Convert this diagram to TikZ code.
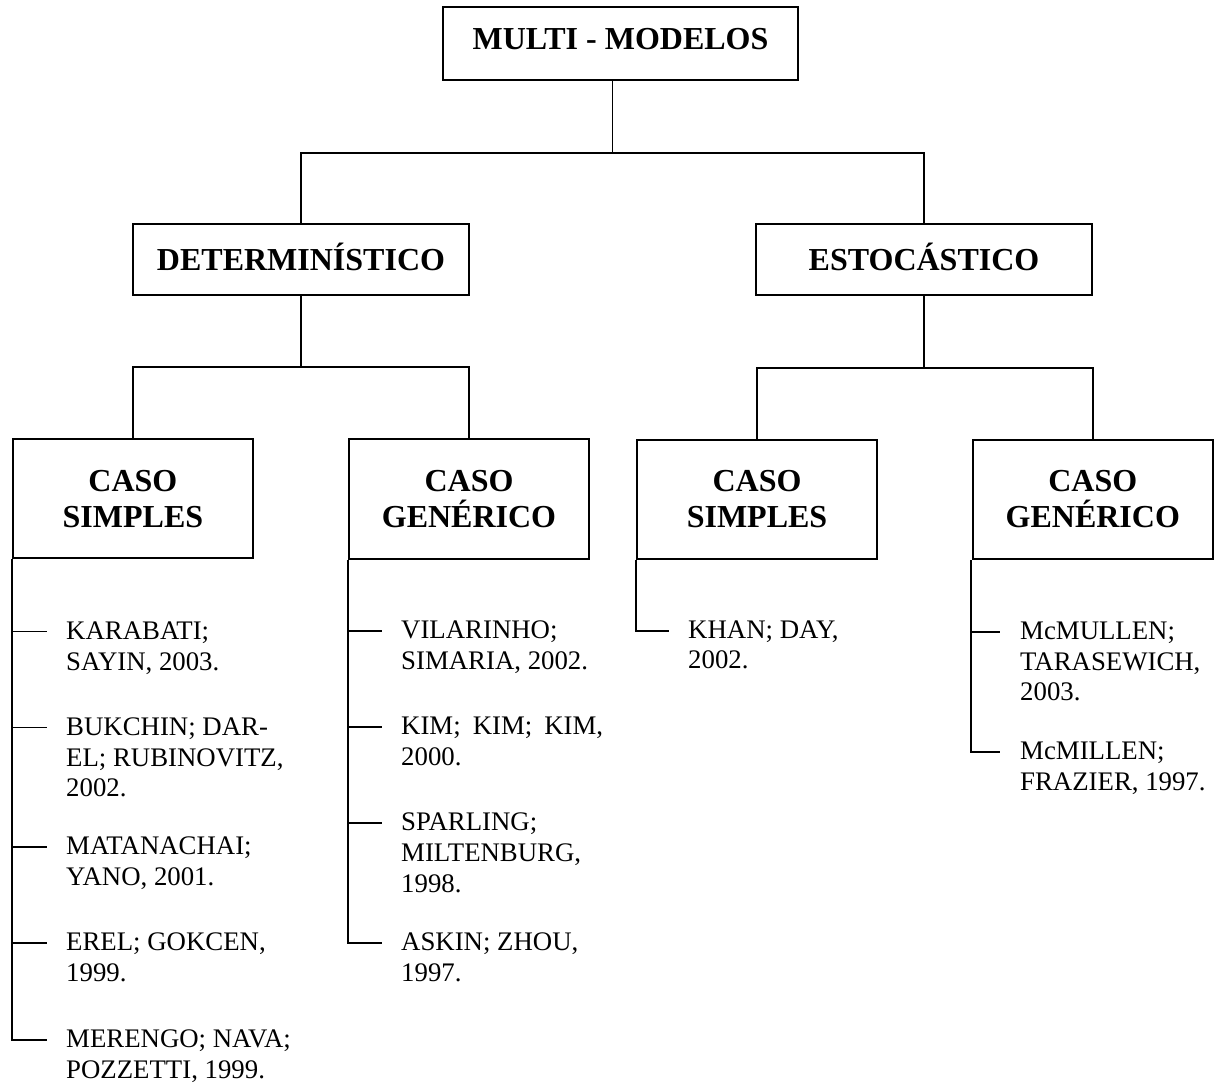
\documentclass[tikz,border=0pt]{standalone}
\usepackage{fontspec}
\setmainfont{Liberation Serif}
\usetikzlibrary{calc}
\begin{document}
\begin{tikzpicture}[x=1pt,y=1pt,
  box/.style={draw, line width=2pt, inner sep=0pt, align=center,
    font=\fontsize{32}{36}\selectfont\bfseries},
  lvl/.style={box, minimum width=336pt, minimum height=71pt,
    text height=21.5pt, text depth=0pt},
  leaf/.style={box, minimum width=240pt, minimum height=119.5pt},
  link/.style={line width=1.7pt},
  spine/.style={line width=2pt},
  ref/.style={anchor=north west, inner sep=0pt, align=left,
    font=\fontsize{26.8}{30.6}\selectfont,
    execute at begin node={\rule{0pt}{20pt}}}]
\useasboundingbox (0,0) rectangle (1214,-1086);

% boxes
\node[box, minimum width=354.4pt, minimum height=72.7pt,
      text height=21.5pt, text depth=10pt] (top) at (620.5,-43.6) {MULTI - MODELOS};
\node[lvl] (det) at (301,-259.5) {DETERMINÍSTICO};
\node[lvl] (est) at (924,-259.5) {ESTOCÁSTICO};
\node[leaf] (cs1) at (132.9,-498.7) {CASO\\SIMPLES};
\node[leaf] (cg1) at (469,-499)     {CASO\\GENÉRICO};
\node[leaf] (cs2) at (757,-499.5)   {CASO\\SIMPLES};
\node[leaf] (cg2) at (1092.8,-499.3)  {CASO\\GENÉRICO};

% tree connectors
\coordinate (j0) at (612.5,-153);
\coordinate (j1) at (301,-367);
\coordinate (j2) at (924,-368);
\draw[link] (top.south -| j0) -- (j0);
\draw[link] (det.north) |- (j0) -| (est.north);
\draw[link] (det.south) -- (j1);
\draw[link] (cs1.north) |- (j1) -| (cg1.north);
\draw[link] (est.south) -- (j2);
\draw[link] (cs2.north) |- (j2) -| (cg2.north);

% tick ends of the reference lists
\coordinate (t11) at (47,-631.5);
\coordinate (t12) at (47,-727.5);
\coordinate (t13) at (47,-847);
\coordinate (t14) at (47,-943);
\coordinate (t15) at (47,-1039.5);
\coordinate (t21) at (382,-631);
\coordinate (t22) at (382,-727);
\coordinate (t23) at (382,-823);
\coordinate (t24) at (382,-943);
\coordinate (t31) at (668.5,-630.5);
\coordinate (t41) at (1000,-632);
\coordinate (t42) at (1000,-752);
\coordinate (s4) at (970.5,-560);

% references
\node[ref] (r11) at ($(t11)+(19,10)$) {KARABATI;\\SAYIN, 2003.};
\node[ref] (r12) at ($(t12)+(19,10)$) {BUKCHIN; DAR-\\EL; RUBINOVITZ,\\2002.};
\node[ref] (r13) at ($(t13)+(19,10)$) {MATANACHAI;\\YANO, 2001.};
\node[ref] (r14) at ($(t14)+(19,10)$) {EREL; GOKCEN,\\1999.};
\node[ref] (r15) at ($(t15)+(19,10)$) {MERENGO; NAVA;\\POZZETTI, 1999.};
\node[ref] (r21) at ($(t21)+(19,10)$) {VILARINHO;\\SIMARIA, 2002.};
\node[ref] (r22) at ($(t22)+(19,10)$) {KIM;\hspace{0.45em}KIM;\hspace{0.45em}KIM,\\2000.};
\node[ref] (r23) at ($(t23)+(19,10)$) {SPARLING;\\MILTENBURG,\\1998.};
\node[ref] (r24) at ($(t24)+(19,10)$) {ASKIN; ZHOU,\\1997.};
\node[ref] (r31) at ($(t31)+(19.5,10)$) {KHAN; DAY,\\2002.};
\node[ref] (r41) at ($(t41)+(20,10)$) {McMULLEN;\\TARASEWICH,\\2003.};
\node[ref] (r42) at ($(t42)+(20,10)$) {McMILLEN;\\FRAZIER, 1997.};

% list spines and ticks
\draw[spine] (cs1.south west) -- (cs1.south west |- t15) -- (t15);
\foreach \t in {t11,t12,t13,t14} \draw[link] (cs1.south west |- \t) -- (\t);
\draw[spine] (cg1.south west) -- (cg1.south west |- t24) -- (t24);
\foreach \t in {t21,t22,t23} \draw[link] (cg1.south west |- \t) -- (\t);
\draw[spine] (cs2.south west) -- (cs2.south west |- t31) -- (t31);
\draw[spine] (s4) -- (s4 |- t42) -- (t42);
\draw[link] (s4 |- t41) -- (t41);
\end{tikzpicture}
\end{document}
